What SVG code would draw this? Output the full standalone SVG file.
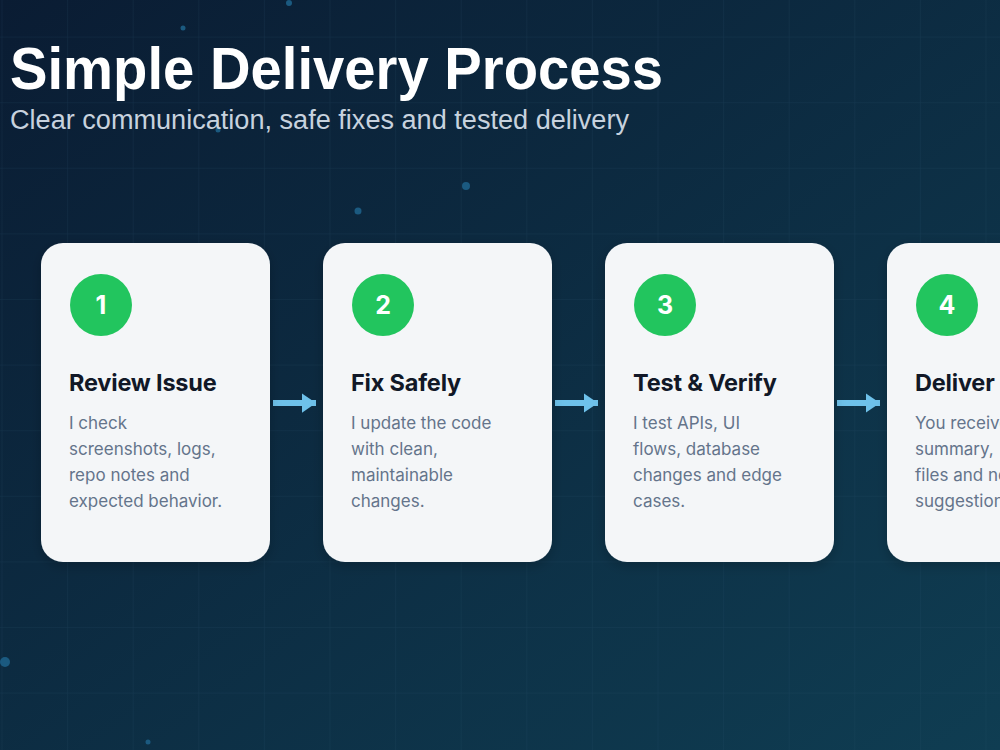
<svg xmlns="http://www.w3.org/2000/svg" width="1000" height="750" viewBox="0 0 1000 750">
<defs>
<linearGradient id="bg" x1="0" y1="0" x2="1" y2="1">
<stop offset="0" stop-color="#0a1c33"/>
<stop offset="1" stop-color="#0f3d52"/>
</linearGradient>
<pattern id="grid" x="1.5" y="36.6" width="65.6" height="65.6" patternUnits="userSpaceOnUse">
<path d="M0 0V65.6M0 0H65.6" fill="none" stroke="#2a5470" stroke-opacity="0.3" stroke-width="1"/>
</pattern>
<filter id="sh" x="-20%" y="-20%" width="140%" height="140%">
<feDropShadow dx="0" dy="4" stdDeviation="6" flood-color="#000" flood-opacity="0.2"/>
</filter>
<marker id="ah" viewBox="0 0 10 10" refX="10" refY="5" markerWidth="2.4" markerHeight="3.3" orient="auto" markerUnits="strokeWidth" preserveAspectRatio="none">
<path d="M0 0L10 5L0 10z" fill="#6ec1ea"/>
</marker>
</defs>
<style>
.card{fill:#f4f6f8;filter:url(#sh)}
.num{fill:#22c55e}
.numt{font-family:Inter,"Liberation Sans",sans-serif;font-weight:700;font-size:25px;fill:#fff;text-anchor:middle}
.ttl{font-family:Inter,"Liberation Sans",sans-serif;font-weight:700;font-size:23.5px;fill:#111827;letter-spacing:-0.2px}
.body{font-family:Inter,"Liberation Sans",sans-serif;font-size:17px;fill:#64748b}
.conn{stroke:#6ec1ea;stroke-width:6;fill:none}
.dot{fill:#1b5a80}
</style>
<rect width="1000" height="750" fill="url(#bg)"/>
<rect width="1000" height="750" fill="url(#grid)"/>
<g id="dots">
<circle class="dot" cx="289" cy="3" r="3"/>
<circle class="dot" cx="183" cy="28" r="2.5"/>
<circle class="dot" cx="218" cy="130" r="2.5"/>
<circle class="dot" cx="466" cy="186" r="4"/>
<circle class="dot" cx="358" cy="211" r="3.5"/>
<circle class="dot" cx="5" cy="662" r="5"/>
<circle class="dot" cx="148" cy="742" r="2.5"/>
</g>
<text x="10" y="89" font-family="'Liberation Sans',Arial,sans-serif" font-weight="700" font-size="60" fill="#ffffff" textLength="653" lengthAdjust="spacingAndGlyphs">Simple Delivery Process</text>
<text x="10" y="129" font-family="'Liberation Sans',Arial,sans-serif" font-size="27" fill="#c7d2de" textLength="619" lengthAdjust="spacingAndGlyphs">Clear communication, safe fixes and tested delivery</text>
<g id="connectors">
<line class="conn" x1="273" y1="403" x2="316" y2="403" marker-end="url(#ah)"/>
<line class="conn" x1="555" y1="403" x2="598" y2="403" marker-end="url(#ah)"/>
<line class="conn" x1="837" y1="403" x2="880" y2="403" marker-end="url(#ah)"/>
</g>
<g id="step1">
<rect class="card" x="41" y="243" width="229" height="319" rx="22"/>
<circle class="num" cx="101" cy="305" r="31"/>
<text class="numt" x="101" y="314">1</text>
<text class="ttl" x="69" y="391">Review Issue</text>
<text class="body" x="69" y="429">I check</text>
<text class="body" x="69" y="455">screenshots, logs,</text>
<text class="body" x="69" y="481">repo notes and</text>
<text class="body" x="69" y="507">expected behavior.</text>
</g>
<g id="step2">
<rect class="card" x="323" y="243" width="229" height="319" rx="22"/>
<circle class="num" cx="383" cy="305" r="31"/>
<text class="numt" x="383" y="314">2</text>
<text class="ttl" x="351" y="391">Fix Safely</text>
<text class="body" x="351" y="429">I update the code</text>
<text class="body" x="351" y="455">with clean,</text>
<text class="body" x="351" y="481">maintainable</text>
<text class="body" x="351" y="507">changes.</text>
</g>
<g id="step3">
<rect class="card" x="605" y="243" width="229" height="319" rx="22"/>
<circle class="num" cx="665" cy="305" r="31"/>
<text class="numt" x="665" y="314">3</text>
<text class="ttl" x="633" y="391">Test &amp; Verify</text>
<text class="body" x="633" y="429">I test APIs, UI</text>
<text class="body" x="633" y="455">flows, database</text>
<text class="body" x="633" y="481">changes and edge</text>
<text class="body" x="633" y="507">cases.</text>
</g>
<g id="step4">
<rect class="card" x="887" y="243" width="229" height="319" rx="22"/>
<circle class="num" cx="947" cy="305" r="31"/>
<text class="numt" x="947" y="314">4</text>
<text class="ttl" x="915" y="391">Deliver</text>
<text class="body" x="915" y="429">You receive</text>
<text class="body" x="915" y="455">summary,</text>
<text class="body" x="915" y="481">files and notes</text>
<text class="body" x="915" y="507">suggestions.</text>
</g>
</svg>
